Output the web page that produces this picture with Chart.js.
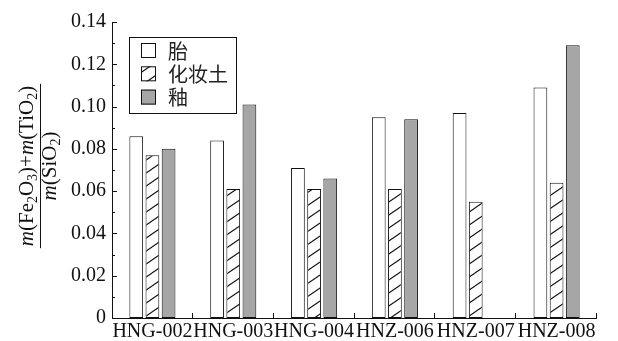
<!DOCTYPE html>
<html>
<head>
<meta charset="utf-8">
<script src="https://cdn.jsdelivr.net/npm/chart.js@4/dist/chart.umd.min.js"></script>
<style>
  html, body { margin: 0; padding: 0; background: #fff; }
</style>
</head>
<body>
<canvas id="chart" width="618" height="341"></canvas>
<script>
// data
const samples = ['HNG-002', 'HNG-003', 'HNG-004', 'HNZ-006', 'HNZ-007', 'HNZ-008'];
const seriesNames = ['胎', '化妆土', '釉'];
const bodyVals = [0.086, 0.084, 0.071, 0.095, 0.097, 0.109];
const slipVals = [0.077, 0.061, 0.061, 0.061, 0.055, 0.064];
const glazeVals = [0.080, 0.101, 0.066, 0.094, null, 0.129];
const yMin = 0, yMax = 0.14, yStep = 0.02;

const serif = '"Liberation Serif", "DejaVu Serif", serif';
const cjk = '"Noto Sans CJK SC", sans-serif';

// hatch pattern for 化妆土
function makeHatch() {
  const w = 19, h = 13;
  const c = document.createElement('canvas');
  c.width = w; c.height = h;
  const g = c.getContext('2d');
  g.fillStyle = '#fff';
  g.fillRect(0, 0, w, h);
  g.strokeStyle = '#111';
  g.lineWidth = 1.1;
  for (const [dx, dy] of [[0, 0], [-w, 0], [w, 0], [0, -h], [0, h]]) {
    g.beginPath();
    g.moveTo(dx, h + dy);
    g.lineTo(w + dx, dy);
    g.stroke();
  }
  return g.createPattern(c, 'repeat');
}
const hatch = makeHatch();

// axis lines + inward ticks
const axesPlugin = {
  id: 'axesPlugin',
  afterDatasetsDraw(chart) {
    const { ctx, chartArea: a, scales: { x, y } } = chart;
    ctx.save();
    ctx.strokeStyle = '#111';
    ctx.lineWidth = 1;
    ctx.beginPath();
    ctx.moveTo(a.left + 0.5, a.top);
    ctx.lineTo(a.left + 0.5, a.bottom + 0.5);
    ctx.lineTo(a.right, a.bottom + 0.5);
    ctx.stroke();
    // y ticks, minor every 0.01
    for (let i = 0; i <= 14; i++) {
      const py = Math.round(y.getPixelForValue(i * 0.01)) + 0.5;
      const len = i % 2 === 0 ? 5 : 3;
      ctx.beginPath();
      ctx.moveTo(a.left, py);
      ctx.lineTo(a.left + len, py);
      ctx.stroke();
    }
    // x ticks between categories
    const cw = (a.right - a.left) / samples.length;
    for (let i = 1; i <= samples.length; i++) {
      const px = Math.round(a.left + i * cw) - 0.5;
      ctx.beginPath();
      ctx.moveTo(px, a.bottom);
      ctx.lineTo(px, a.bottom - 5);
      ctx.stroke();
    }
    ctx.restore();
  }
};

// legend box inside the plot
const legendBox = {
  id: 'legendBox',
  afterDraw(chart) {
    const { ctx } = chart;
    const bx = 129, by = 37, bw = 107, bh = 76;
    ctx.save();
    ctx.strokeStyle = '#111';
    ctx.lineWidth = 1;
    ctx.fillStyle = '#fff';
    ctx.fillRect(bx, by, bw, bh);
    ctx.strokeRect(bx + 0.5, by + 0.5, bw, bh);
    chart.data.datasets.forEach((ds, i) => {
      const cy = 50 + i * 23.3;
      ctx.fillStyle = ds.backgroundColor;
      ctx.fillRect(141, cy - 7, 15, 15);
      ctx.strokeRect(141.5, cy - 6.5, 14, 14);
      ctx.fillStyle = '#222';
      ctx.font = '20px ' + cjk;
      ctx.textBaseline = 'middle';
      ctx.textAlign = 'left';
      ctx.fillText(ds.label, 168, cy + 1);
    });
    ctx.restore();
  }
};

// fraction-style y axis title
function drawRich(ctx, parts, cx, baseline, size) {
  const fontOf = p => (p.italic ? 'italic ' : '') + (p.sub ? Math.round(size * 0.68) : size) + 'px ' + serif;
  let total = 0;
  parts.forEach(p => { ctx.font = fontOf(p); total += ctx.measureText(p.t).width; });
  let x = cx - total / 2;
  parts.forEach(p => {
    ctx.font = fontOf(p);
    ctx.fillText(p.t, x, baseline + (p.sub ? size * 0.2 : 0));
    x += ctx.measureText(p.t).width;
  });
  return total;
}
const yTitle = {
  id: 'yTitle',
  afterDraw(chart) {
    const { ctx } = chart;
    const size = 21;
    ctx.save();
    ctx.translate(40, 166);
    ctx.rotate(-Math.PI / 2);
    ctx.fillStyle = '#111';
    ctx.textBaseline = 'alphabetic';
    ctx.textAlign = 'left';
    const w = drawRich(ctx, [
      { t: 'm', italic: true }, { t: '(Fe' }, { t: '2', sub: true }, { t: 'O' }, { t: '3', sub: true },
      { t: ')+' }, { t: 'm', italic: true }, { t: '(TiO' }, { t: '2', sub: true }, { t: ')' }
    ], 0, -7, size);
    drawRich(ctx, [{ t: 'm', italic: true }, { t: '(SiO' }, { t: '2', sub: true }, { t: ')' }], 0, 16, size);
    ctx.strokeStyle = '#111';
    ctx.lineWidth = 1;
    ctx.beginPath();
    ctx.moveTo(-w / 2 - 2, 0.5);
    ctx.lineTo(w / 2 + 2, 0.5);
    ctx.stroke();
    ctx.restore();
  }
};

new Chart(document.getElementById('chart'), {
  type: 'bar',
  data: {
    labels: samples,
    datasets: [
      { label: seriesNames[0], data: bodyVals, backgroundColor: '#ffffff' },
      { label: seriesNames[1], data: slipVals, backgroundColor: hatch },
      { label: seriesNames[2], data: glazeVals, backgroundColor: '#a6a6a6' }
    ].map(d => Object.assign(d, { borderColor: '#111', borderWidth: 1, borderSkipped: false }))
  },
  options: {
    responsive: false,
    animation: false,
    layout: { padding: { top: 22, right: 21, left: 0, bottom: 0 } },
    plugins: { legend: { display: false }, tooltip: { enabled: false } },
    datasets: { bar: { categoryPercentage: 0.6, barPercentage: 0.85 } },
    scales: {
      x: {
        grid: { display: false, drawTicks: false },
        border: { display: false },
        ticks: { color: '#111', font: { family: serif, size: 20 }, padding: 2, maxRotation: 0, autoSkip: false },
        afterFit: s => { s.height = 23; }
      },
      y: {
        min: yMin, max: yMax,
        grid: { display: false, drawTicks: false },
        border: { display: false },
        ticks: {
          stepSize: yStep, color: '#111', padding: 6,
          font: { family: serif, size: 20 },
          callback: v => v === 0 ? '0' : v.toFixed(2)
        },
        afterFit: s => { s.width = 112; }
      }
    }
  },
  plugins: [axesPlugin, legendBox, yTitle]
});
</script>
</body>
</html>
